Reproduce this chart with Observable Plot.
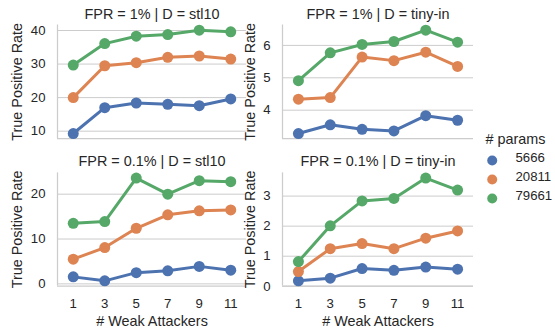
<!DOCTYPE html>
<html>
<head>
<meta charset="utf-8">
<script src="https://cdn.jsdelivr.net/npm/d3@7"></script>
<script src="https://cdn.jsdelivr.net/npm/@observablehq/plot@0.6"></script>
<style>
  html, body { margin: 0; padding: 0; background: #fff; }
  #chart { position: relative; width: 555px; height: 329px; background: #fff; color: #262626;
           font-family: "Liberation Sans", Arial, sans-serif; }
  #chart svg { position: absolute; left: 0; top: 0; }
</style>
</head>
<body>
<div id="chart"></div>
<script>
// ---- data ----
const attackers = [1, 3, 5, 7, 9, 11];
const params = ["5666", "20811", "79661"];
const colors = ["#4c72b0", "#dd8452", "#55a868"];

const tl_5666  = [9.3, 17.0, 18.4, 18.0, 17.6, 19.6];
const tl_20811 = [20.0, 29.5, 30.4, 32.0, 32.4, 31.5];
const tl_79661 = [29.7, 36.1, 38.3, 38.8, 40.1, 39.6];

const tr_5666  = [3.28, 3.55, 3.41, 3.36, 3.83, 3.69];
const tr_20811 = [4.34, 4.39, 5.64, 5.53, 5.79, 5.35];
const tr_79661 = [4.91, 5.77, 6.03, 6.12, 6.47, 6.10];

const bl_5666  = [1.56, 0.67, 2.5, 2.9, 3.9, 3.06];
const bl_20811 = [5.5, 8.1, 12.4, 15.4, 16.3, 16.5];
const bl_79661 = [13.5, 13.9, 23.6, 20.0, 23.0, 22.8];

const br_5666  = [0.18, 0.27, 0.59, 0.53, 0.64, 0.57];
const br_20811 = [0.49, 1.25, 1.42, 1.25, 1.6, 1.84];
const br_79661 = [0.82, 2.01, 2.84, 2.92, 3.6, 3.2];

const titles = ["FPR = 1% | D = stl10", "FPR = 1% | D = tiny-in", "FPR = 0.1% | D = stl10", "FPR = 0.1% | D = tiny-in"];
const yTicksTL = [10, 20, 30, 40];
const yTicksTR = [4, 5, 6];
const yTicksBL = [0, 10, 20];
const yTicksBR = [0, 1, 2, 3];
const yLabel = "True Positive Rate";
const xLabel = "# Weak Attackers";
const legendTitle = "# params";

// ---- layout ----
const W = 555, H = 329;
const GRID = "#cccccc";
const TXT = "#262626";
const colX = [[57, 246], [282, 473]];
const rowY = [[24.5, 138.2], [172.4, 285.5]];

function toRows(seriesArrays) {
  const rows = [];
  seriesArrays.forEach((arr, si) => arr.forEach((v, i) => rows.push({x: attackers[i], y: v, p: params[si]})));
  return rows;
}

function panel({series, title, yTicks, col, row, showX, labelDx}) {
  const rows = toRows(series);
  const vals = rows.map(d => d.y);
  const lo = d3.min(vals), hi = d3.max(vals), m = (hi - lo) * 0.05;
  const ylo = lo - m, yhi = hi + m;
  const [x0, x1] = colX[col], [y0, y1] = rowY[row];
  const marks = [
    Plot.gridY({ticks: yTicks, stroke: GRID, strokeOpacity: 1, strokeWidth: 1}),
    Plot.ruleX([0], {stroke: GRID, strokeWidth: 1.25}),
    Plot.ruleY([ylo], {stroke: GRID, strokeWidth: 1.25}),
    Plot.axisY({ticks: yTicks, tickSize: 0, tickPadding: 12, fontSize: 13.2, label: null, fill: TXT, tickFormat: d => String(d)}),
    Plot.text([title], {frameAnchor: "top", lineAnchor: "bottom", dy: row === 0 ? -6.5 : -7, fontSize: 14.4, fill: TXT}),
    Plot.text([yLabel], {x: () => 0, y: () => (ylo + yhi) / 2, rotate: -90, dx: labelDx, textAnchor: "middle", lineAnchor: "middle", fontSize: 14.4, fill: TXT})
  ];
  if (showX) {
    marks.push(Plot.axisX({ticks: attackers, tickSize: 0, tickPadding: 12.5, fontSize: 13.2, label: null, fill: TXT, tickFormat: d => String(d)}));
    marks.push(Plot.text([xLabel], {frameAnchor: "bottom", lineAnchor: "bottom", dy: 40, fontSize: 14.4, fill: TXT}));
  }
  params.forEach(p => {
    const sub = rows.filter(d => d.p === p);
    marks.push(Plot.line(sub, {x: "x", y: "y", stroke: "p", strokeWidth: 3}));
    marks.push(Plot.dot(sub, {x: "x", y: "y", fill: "p", r: 5.5}));
  });
  return Plot.plot({
    width: W, height: H,
    marginLeft: x0, marginRight: W - x1, marginTop: y0, marginBottom: H - y1,
    style: {background: "transparent", overflow: "visible", fontFamily: "Liberation Sans, Arial, sans-serif"},
    x: {type: "linear", domain: [0, 12], axis: showX ? undefined : null},
    y: {domain: [ylo, yhi]},
    color: {domain: params, range: colors},
    marks
  });
}

const chart = document.getElementById("chart");
chart.append(panel({series: [tl_5666, tl_20811, tl_79661], title: titles[0], yTicks: yTicksTL, col: 0, row: 0, showX: false, labelDx: -40}));
chart.append(panel({series: [tr_5666, tr_20811, tr_79661], title: titles[1], yTicks: yTicksTR, col: 1, row: 0, showX: false, labelDx: -32}));
chart.append(panel({series: [bl_5666, bl_20811, bl_79661], title: titles[2], yTicks: yTicksBL, col: 0, row: 1, showX: true, labelDx: -40}));
chart.append(panel({series: [br_5666, br_20811, br_79661], title: titles[3], yTicks: yTicksBR, col: 1, row: 1, showX: true, labelDx: -32}));

// ---- legend ----
const legend = Plot.plot({
  width: W, height: H,
  marginLeft: 491.7, marginRight: W - 540, marginTop: 159.3, marginBottom: H - 197.8,
  style: {background: "transparent", overflow: "visible", fontFamily: "Liberation Sans, Arial, sans-serif"},
  x: {axis: null},
  y: {type: "point", domain: params, padding: 0, axis: null},
  color: {domain: params, range: colors},
  marks: [
    Plot.text([legendTitle], {frameAnchor: "top-left", textAnchor: "start", lineAnchor: "bottom", dx: -6.7, dy: -16.3, fontSize: 14.4, fill: TXT}),
    Plot.dot(params, {y: d => d, fill: d => d, frameAnchor: "left", r: 5}),
    Plot.text(params, {y: d => d, frameAnchor: "left", textAnchor: "start", dx: 23.3, dy: -2.3, fontSize: 13.2, fill: TXT})
  ]
});
chart.append(legend);
</script>
</body>
</html>
